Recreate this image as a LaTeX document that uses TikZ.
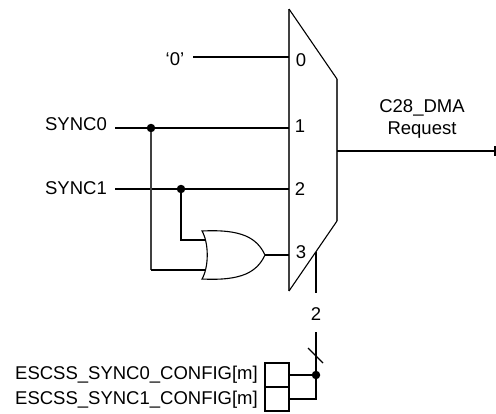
\documentclass[tikz,border=0pt]{standalone}
\usepackage{fontspec}
\setmainfont{Liberation Sans}
\usetikzlibrary{positioning,calc}
\tikzset{
  lbl/.style    ={inner sep=0pt, font=\fontsize{18.5}{22}\selectfont},
  cfg/.style    ={draw, rectangle, line width=1.2pt, minimum width=24pt, minimum height=24pt, inner sep=0pt},
  dot/.style    ={circle, fill=black, minimum size=8.5pt, inner sep=0pt},
  wire/.style   ={line width=1.3pt},
  thin wire/.style={line width=1.1pt},
}
\begin{document}
\begin{tikzpicture}[x=1pt,y=-1pt]
    \useasboundingbox (0,0) rectangle (496,413);
    % mux outline
    \coordinate (muxtl) at (289,9);
    \coordinate (muxtr) at (337,79);
    \coordinate (muxbr) at (337,221);
    \coordinate (muxbl) at (289,291);
    \draw[wire,black!75] (muxbl) -- (muxtl);
    \draw[wire,black!75] (muxtr) -- (muxbr);
    \draw[thin wire] (muxtl) -- (muxtr);
    \draw[thin wire] (muxbr) -- (muxbl);
    % mux pins
    \coordinate (pin0) at (289,57);
    \coordinate (pin1) at (289,128);
    \coordinate (pin2) at (289,189);
    \coordinate (pin3) at (289,255);
    \coordinate (muxout) at (337,151);
    \coordinate (muxsel) at (316,252);
    \node[lbl] (num0) at (301,60) {0};
    \node[lbl] (num1) at (300,126) {1};
    \node[lbl] (num2) at (300,189) {2};
    \node[lbl] (num3) at (301,252) {3};
    % inputs
    \node[lbl] (zero) at (175,59) {`0'};
    \node[lbl,anchor=east] (sync0) at (107,124) {SYNC0};
    \node[lbl,anchor=east] (sync1) at (107,188) {SYNC1};
    \coordinate (zeroend) at (193,57);
    \coordinate (sync0end) at (115,128);
    \coordinate (sync1end) at (115,189);
    \draw[wire] (zeroend) -- (pin0);
    \draw[wire] (sync0end) -- (pin1);
    \draw[wire] (sync1end) -- (pin2);
    \node[dot] (dot0) at (151,128) {};
    \node[dot] (dot1) at (181,189) {};
    % or gate
    \coordinate (orta) at (202,231);
    \coordinate (ortb) at (202,279);
    \coordinate (orout) at (265,255);
    \coordinate (orina) at (205,240);
    \coordinate (orinb) at (205,270);
    \draw[thin wire] (orta) .. controls (209,243) and (209,267) .. (ortb)
      .. controls (242,281) and (257,272) .. (orout)
      .. controls (257,238) and (242,229) .. (orta) -- cycle;
    \draw[wire] (dot1) |- (orina);
    \draw[wire,black!75] (dot0) -- (dot0 |- orinb);
    \draw[wire] (dot0 |- orinb) -- (orinb);
    \draw[wire] (orout) -- (pin3);
    % output
    \coordinate (outend) at (495,151);
    \draw[wire] (muxout) -- (outend);
    \draw[wire] ($(outend)+(0,-5)$) -- ($(outend)+(0,5)$);
    \node[lbl,align=center] (outlbl) at (422,119) {C28\_DMA\\Request};
    % select
    \node[lbl] (selnum) at (316,314) {2};
    \draw[wire] (muxsel) -- (316,293);
    \node[cfg] (cfg0) at (277,375) {};
    \node[cfg] (cfg1) at (277,399) {};
    \node[dot] (seldot) at (316,375) {};
    \coordinate (seltop) at (316,332);
    \draw[wire] (seltop) -- (seldot);
    \draw[wire] (cfg0.east) -- (seldot);
    \draw[wire] (cfg1.east) -| (seldot);
    \coordinate (slasha) at (308,348);
    \coordinate (slashb) at (323,363);
    \draw[thin wire] (slasha) -- (slashb);
    \node[lbl,anchor=east] (cfg0lbl) at (258,375) {ESCSS\_SYNC0\_CONFIG[m]};
    \node[lbl,anchor=east] (cfg1lbl) at (258,400) {ESCSS\_SYNC1\_CONFIG[m]};
\end{tikzpicture}
\end{document}
